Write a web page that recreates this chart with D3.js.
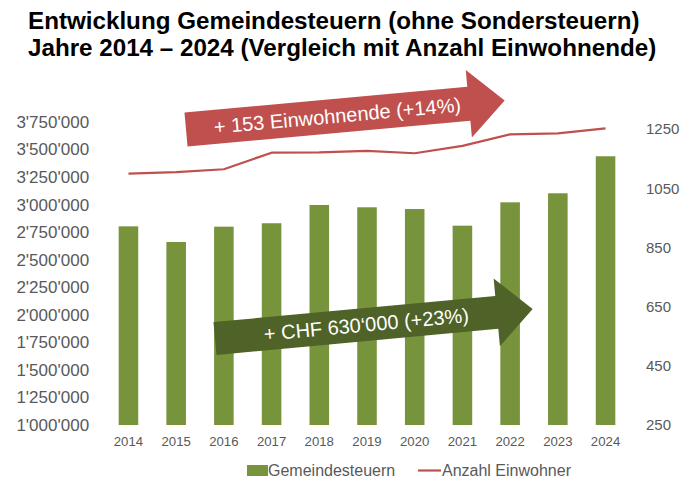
<!DOCTYPE html>
<html>
<head>
<meta charset="utf-8">
<script src="https://cdn.jsdelivr.net/npm/d3@7"></script>
<style>
  html, body { margin: 0; padding: 0; background: #ffffff; }
  svg { display: block; font-family: "Liberation Sans", Arial, sans-serif; }
</style>
</head>
<body>
<svg id="chart" width="682" height="479"></svg>
<script>
// ---- data ----
const years = ["2014","2015","2016","2017","2018","2019","2020","2021","2022","2023","2024"];
const steuern = [2803000, 2661000, 2800000, 2831000, 2997000, 2976000, 2960000, 2809000, 3021000, 3103000, 3439000];
const einwohner = [1099, 1104, 1114, 1170, 1171, 1176, 1168, 1193, 1232, 1235, 1252];
const leftTicks = [1000000,1250000,1500000,1750000,2000000,2250000,2500000,2750000,3000000,3250000,3500000,3750000];
const rightTicks = [250, 450, 650, 850, 1050, 1250];
const titleLines = ["Entwicklung Gemeindesteuern (ohne Sondersteuern)", "Jahre 2014 \u2013 2024 (Vergleich mit Anzahl Einwohnende)"];
const seriesNames = ["Gemeindesteuern", "Anzahl Einwohner"];
const arrowTexts = ["+ 153 Einwohnende (+14%)", "+ CHF 630\u2018000 (+23%)"];

// ---- layout ----
const svg = d3.select("#chart");
const plot = { left: 104.6, right: 629.4, top: 122, bottom: 425 };
const colBar = "#77933c", colLine = "#c0504d", colGreenArrow = "#4f6228", colRedArrow = "#c0504d", colText = "#595959";

const x = d3.scaleBand().domain(years).range([plot.left, plot.right]).paddingInner(0.59).paddingOuter(0.295);
const yL = d3.scaleLinear().domain([1000000, 3750000]).range([plot.bottom, plot.top]);
const yR = d3.scaleLinear().domain([250, 1250]).range([plot.bottom, 129]);

const loc = d3.formatLocale({ decimal: ".", thousands: "'", grouping: [3], currency: ["", ""] });
const fmt = loc.format(",");

// title
svg.append("g").selectAll("text").data(titleLines).join("text")
  .attr("x", 28).attr("y", (d, i) => 29 + i * 27)
  .attr("font-size", 24.2).attr("font-weight", "bold").attr("fill", "#000")
  .text(d => d);

// bars
svg.append("g").selectAll("rect").data(years).join("rect")
  .attr("x", d => x(d)).attr("width", x.bandwidth())
  .attr("y", (d, i) => yL(steuern[i]))
  .attr("height", (d, i) => yL(1000000) - yL(steuern[i]))
  .attr("fill", colBar);

// line
const line = d3.line().x((d, i) => x(years[i]) + x.bandwidth() / 2).y(d => yR(d));
svg.append("path").datum(einwohner).attr("d", line)
  .attr("fill", "none").attr("stroke", colLine).attr("stroke-width", 2.2).attr("stroke-linejoin", "round");

// axes
const axL = svg.append("g").attr("transform", `translate(${plot.left - 15.5},0)`)
  .call(d3.axisLeft(yL).tickValues(leftTicks).tickFormat(fmt).tickSize(0).tickPadding(0));
const axR = svg.append("g").attr("transform", `translate(646,0)`)
  .call(d3.axisRight(yR).tickValues(rightTicks).tickFormat(d3.format("d")).tickSize(0).tickPadding(0));
const axB = svg.append("g").attr("transform", `translate(0,${plot.bottom})`)
  .call(d3.axisBottom(x).tickSize(0).tickPadding(12));
[axL, axR, axB].forEach(a => {
  a.select(".domain").remove();
  a.selectAll("text").attr("fill", colText).attr("font-family", "Liberation Sans, Arial, sans-serif");
});
axL.selectAll("text").attr("font-size", 17);
axR.selectAll("text").attr("font-size", 15);
axB.selectAll("text").attr("font-size", 13.2);

// arrows
function arrow(tailX, tailY, angleDeg, len, thick, headW, headL, fill, label) {
  const g = svg.append("g").attr("transform", `translate(${tailX},${tailY}) rotate(${angleDeg})`);
  const b = len - headL;
  const pts = [[0, -thick / 2], [b, -thick / 2], [b, -headW / 2], [len, 0], [b, headW / 2], [b, thick / 2], [0, thick / 2]];
  g.append("path").attr("d", d3.line()(pts) + "Z").attr("fill", fill);
  g.append("text").attr("x", 152).attr("y", 0).attr("dy", "0.35em")
    .attr("text-anchor", "middle").attr("font-size", 20).attr("fill", "#ffffff").text(label);
}
arrow(186, 129.5, -5.2, 320, 34, 68, 36, colRedArrow, arrowTexts[0]);
arrow(215, 338.5, -5.3, 319, 33, 68, 36, colGreenArrow, arrowTexts[1]);

// legend
const lg = svg.append("g");
lg.append("rect").attr("x", 247).attr("y", 465).attr("width", 21).attr("height", 11).attr("fill", colBar);
lg.append("text").attr("x", 268).attr("y", 476).attr("font-size", 16).attr("fill", colText).text(seriesNames[0]);
lg.append("line").attr("x1", 418).attr("x2", 441).attr("y1", 470.5).attr("y2", 470.5).attr("stroke", colLine).attr("stroke-width", 2.2);
lg.append("text").attr("x", 442).attr("y", 476).attr("font-size", 16).attr("fill", colText).text(seriesNames[1]);
</script>
</body>
</html>
